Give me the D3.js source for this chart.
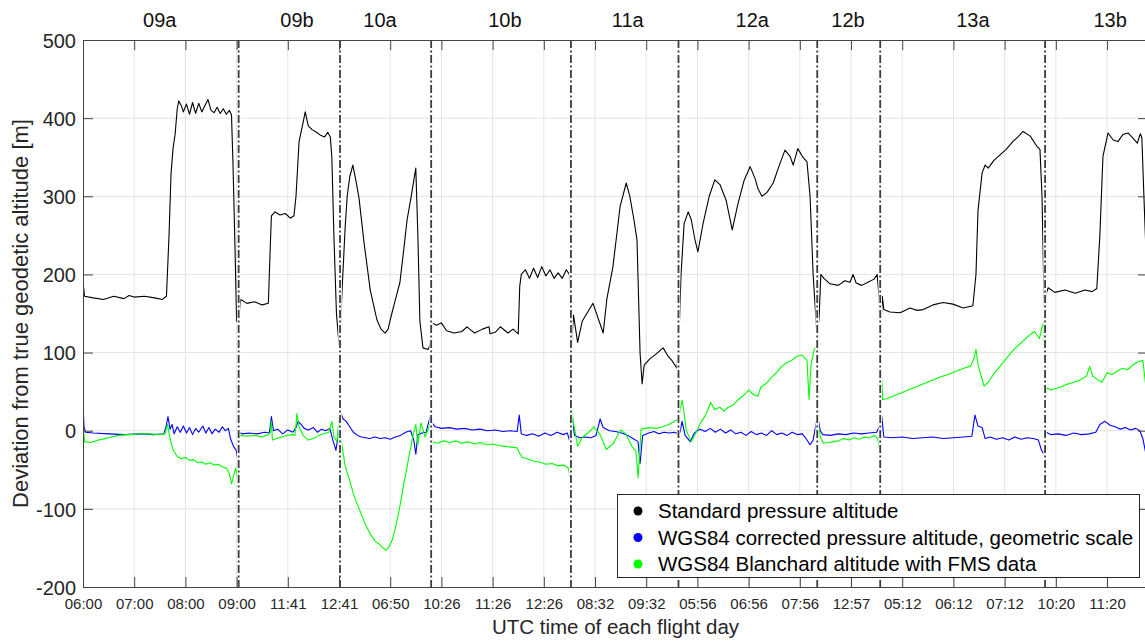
<!DOCTYPE html>
<html>
<head>
<meta charset="utf-8">
<script src="https://cdn.jsdelivr.net/npm/d3@7"></script>
<style>
  html, body { margin: 0; padding: 0; background: #fff; }
  svg { display: block; font-family: "Liberation Sans", Arial, Helvetica, sans-serif; }
</style>
</head>
<body>
<svg id="chart" width="1145" height="641"></svg>
<script>
// Concatenated flight-time axis: hours elapsed across all flights shown.
const tickLabels = ["06:00","07:00","08:00","09:00","11:41","12:41","06:50","10:26","11:26","12:26",
  "08:32","09:32","05:56","06:56","07:56","12:57","05:12","06:12","07:12","10:20","11:20"];
const flightNames = ["09a","09b","10a","10b","11a","12a","12b","13a","13b"];
const flightLabelAt = [1.50, 4.18, 5.80, 8.24, 10.64, 13.07, 14.94, 17.38, 20.06];
const flightBreaks = [3.04, 5.02, 6.80, 9.53, 11.63, 14.34, 15.57, 18.79];
const yTicks = [-200, -100, 0, 100, 200, 300, 400, 500];
const seriesNames = ["Standard pressure altitude",
  "WGS84 corrected pressure altitude, geometric scale",
  "WGS84 Blanchard altitude with FMS data"];

// [hour, deviation m] — standard pressure altitude
const stdAlt = [
  [0.00,133],[0.01,184],[0.03,172],[0.2,170],[0.4,168],[0.6,172],[0.8,169],[0.9,173],[1.0,171],[1.2,172],[1.4,170],[1.55,168],[1.63,172],
  [1.68,250],[1.72,330],[1.76,362],[1.80,380],[1.84,412],[1.87,422],[1.92,416],[1.96,408],[2.02,418],[2.08,405],[2.14,420],[2.20,406],
  [2.26,419],[2.32,408],[2.38,416],[2.44,424],[2.50,410],[2.56,407],[2.62,414],[2.68,406],[2.74,412],[2.80,405],[2.86,410],[2.90,404],
  [2.93,340],[2.97,230],[3.00,140],
  [3.05,150],[3.08,168],[3.2,163],[3.35,165],[3.5,161],[3.62,163],[3.66,240],[3.68,275],[3.75,280],[3.85,276],[3.95,278],[4.05,272],
  [4.12,275],[4.16,300],[4.22,370],[4.30,395],[4.34,408],[4.40,390],[4.48,385],[4.56,382],[4.64,378],[4.72,376],[4.78,382],[4.83,376],
  [4.86,350],[4.90,250],[4.95,150],[5.00,110],
  [5.02,120],[5.06,180],[5.12,260],[5.16,300],[5.21,325],[5.27,340],[5.33,320],[5.39,298],[5.49,240],[5.61,180],[5.74,142],[5.82,130],
  [5.90,125],[5.96,130],[6.00,142],[6.09,165],[6.19,190],[6.27,235],[6.33,270],[6.41,300],[6.46,320],[6.50,336],[6.54,250],[6.58,140],
  [6.64,106],[6.74,104],[6.78,110],
  [6.82,138],[6.90,135],[7.00,138],[7.10,128],[7.25,125],[7.40,127],[7.50,133],[7.55,130],[7.65,125],[7.80,130],[7.93,133],[7.95,124],
  [8.05,126],[8.15,133],[8.30,125],[8.40,130],[8.50,124],[8.53,185],[8.56,200],[8.64,206],[8.72,195],[8.80,208],[8.88,196],[8.96,210],
  [9.04,198],[9.12,206],[9.20,195],[9.28,202],[9.36,195],[9.44,206],[9.50,200],[9.53,160],
  [9.54,108],[9.58,148],[9.66,113],[9.75,140],[9.96,163],[10.16,125],[10.23,168],[10.35,210],[10.49,287],[10.61,317],[10.68,300],
  [10.76,270],[10.82,244],[10.88,99],[10.92,60],[10.96,84],[11.07,92],[11.19,98],[11.33,106],[11.43,95],[11.50,90],[11.60,80],
  [11.64,120],[11.68,200],[11.74,265],[11.82,280],[11.88,270],[11.95,245],[12.01,229],[12.11,265],[12.23,300],[12.34,321],[12.44,315],
  [12.56,295],[12.68,257],[12.79,290],[12.91,320],[13.03,338],[13.13,322],[13.18,310],[13.26,300],[13.36,305],[13.48,317],[13.59,338],
  [13.71,359],[13.81,351],[13.87,340],[13.96,361],[14.06,350],[14.14,344],[14.20,300],[14.26,200],[14.34,116],
  [14.38,150],[14.41,200],[14.47,195],[14.59,188],[14.75,186],[14.88,192],[14.98,190],[15.04,200],[15.10,189],[15.21,186],[15.33,190],
  [15.45,194],[15.51,200],[15.55,170],[15.57,110],
  [15.59,140],[15.61,172],[15.64,155],[15.76,152],[15.96,151],[16.15,157],[16.29,154],[16.41,155],[16.60,161],[16.80,164],[16.99,162],
  [17.19,157],[17.38,160],[17.44,200],[17.48,282],[17.56,330],[17.62,340],[17.68,336],[17.79,346],[17.91,353],[18.03,360],[18.16,370],
  [18.26,376],[18.36,383],[18.50,377],[18.63,364],[18.69,360],[18.73,300],[18.77,168],[18.79,133],
  [18.81,175],[18.85,183],[18.98,177],[19.18,180],[19.38,176],[19.57,180],[19.71,178],[19.80,182],[19.86,250],[19.92,351],[20.02,381],
  [20.12,372],[20.21,370],[20.31,379],[20.41,381],[20.51,374],[20.59,368],[20.65,380],[20.68,375],[20.72,300],[20.76,230]
];

// [hour, deviation m] — WGS84 corrected pressure altitude
const wgsPress = [
  [0.00,35],[0.02,5],[0.05,-2],[0.2,-3],[0.5,-4],[0.8,-5],[1.1,-4],[1.4,-5],[1.58,-4],[1.62,5],[1.66,18],[1.70,2],[1.74,8],[1.78,-4],
  [1.84,5],[1.90,-2],[1.96,6],[2.02,-3],[2.08,4],[2.14,-5],[2.20,3],[2.26,-2],[2.34,6],[2.40,-3],[2.46,4],[2.52,-4],[2.58,2],[2.66,-2],
  [2.72,5],[2.78,0],[2.84,3],[2.88,-10],[2.94,-20],[2.99,-25],[3.03,-38],
  [3.05,-2],[3.10,-4],[3.25,-3],[3.40,-4],[3.55,-2],[3.64,-3],[3.68,18],[3.72,0],[3.80,2],[3.90,-4],[4.00,1],[4.10,-2],[4.16,4],
  [4.20,12],[4.26,8],[4.32,3],[4.40,1],[4.50,4],[4.58,-2],[4.66,2],[4.74,0],[4.82,3],[4.88,-12],[4.94,-25],[4.98,-8],[5.02,18],
  [5.04,22],[5.08,15],[5.14,12],[5.20,6],[5.28,-2],[5.36,-6],[5.44,-8],[5.52,-9],[5.60,-10],[5.70,-8],[5.80,-10],[5.90,-9],[6.00,-11],
  [6.10,-8],[6.20,-6],[6.30,-2],[6.40,0],[6.46,-12],[6.50,-30],[6.54,-5],[6.62,-3],[6.70,-2],[6.78,18],
  [6.82,10],[6.88,5],[7.00,3],[7.15,4],[7.30,2],[7.45,3],[7.60,1],[7.75,2],[7.90,0],[8.05,1],[8.20,-1],[8.35,0],[8.48,-1],[8.52,20],
  [8.56,-4],[8.66,-6],[8.78,-4],[8.90,-7],[9.02,-3],[9.14,-6],[9.26,-2],[9.38,-5],[9.46,-3],[9.50,-12],
  [9.55,18],[9.60,-6],[9.70,-9],[9.82,-8],[9.92,-9],[10.02,-6],[10.10,15],[10.16,4],[10.28,0],[10.40,-1],[10.52,-3],[10.64,-6],
  [10.74,-10],[10.84,-14],[10.88,-42],[10.93,-6],[11.05,-3],[11.15,-1],[11.25,-4],[11.35,-2],[11.45,-3],[11.55,-2],[11.62,-4],
  [11.66,-2],[11.70,12],[11.76,-6],[11.86,-14],[11.94,-3],[12.05,2],[12.15,-1],[12.25,3],[12.35,-2],[12.45,2],[12.55,-3],[12.65,1],
  [12.75,-4],[12.85,-2],[12.95,-6],[13.05,-1],[13.15,-5],[13.25,-3],[13.35,-6],[13.45,0],[13.55,-5],[13.65,-3],[13.75,-6],[13.85,-2],
  [13.95,-5],[14.05,-4],[14.12,-10],[14.20,-18],[14.26,-12],[14.32,10],
  [14.36,14],[14.40,0],[14.45,-5],[14.60,-6],[14.75,-4],[14.90,-5],[15.05,-3],[15.20,-4],[15.35,-3],[15.50,-2],[15.55,5],
  [15.58,-20],[15.60,18],[15.64,-8],[15.80,-9],[16.00,-8],[16.20,-10],[16.40,-9],[16.60,-8],[16.80,-10],[17.00,-9],[17.20,-8],
  [17.36,-7],[17.42,20],[17.48,6],[17.56,4],[17.62,-10],[17.72,-8],[17.84,-11],[17.96,-9],[18.08,-12],[18.20,-8],[18.32,-11],
  [18.44,-9],[18.56,-10],[18.66,-12],[18.72,-25],[18.77,-30],[18.80,-5],
  [18.82,-2],[18.90,-5],[19.05,-4],[19.20,-6],[19.35,-3],[19.50,-5],[19.65,-4],[19.78,-2],[19.86,8],[19.96,12],[20.06,7],[20.16,5],
  [20.26,2],[20.36,4],[20.46,1],[20.56,3],[20.64,0],[20.70,-10],[20.76,-30]
];

// [hour, deviation m] — WGS84 Blanchard altitude with FMS data
const blanchard = [
  [0.00,10],[0.03,-14],[0.15,-15],[0.30,-12],[0.50,-9],[0.70,-6],[0.90,-5],[1.10,-4],[1.30,-4],[1.50,-5],[1.60,-4],[1.65,8],[1.70,-10],
  [1.76,-25],[1.84,-33],[1.92,-36],[2.00,-34],[2.08,-38],[2.16,-37],[2.24,-41],[2.32,-40],[2.40,-43],[2.48,-41],[2.56,-44],[2.64,-43],
  [2.72,-46],[2.80,-48],[2.86,-55],[2.90,-68],[2.94,-58],[2.98,-48],[3.02,-60],
  [3.06,-6],[3.20,-7],[3.35,-6],[3.50,-8],[3.62,-5],[3.66,-2],[3.68,12],[3.70,-12],[3.78,-10],[3.88,-8],[3.98,-6],[4.08,-5],[4.14,-6],
  [4.18,22],[4.22,5],[4.30,-6],[4.40,-12],[4.50,-10],[4.60,-6],[4.70,-4],[4.80,-2],[4.86,12],[4.90,-8],[4.96,-14],[5.00,15],
  [5.03,-2],[5.06,-20],[5.12,-45],[5.20,-62],[5.30,-85],[5.40,-101],[5.50,-118],[5.60,-131],[5.70,-141],[5.80,-146],[5.86,-150],
  [5.92,-153],[5.98,-148],[6.04,-140],[6.10,-125],[6.18,-100],[6.26,-70],[6.34,-42],[6.44,-8],[6.50,8],[6.54,-18],[6.60,10],[6.68,-8],
  [6.76,5],[6.80,18],
  [6.82,-14],[6.92,-16],[7.04,-13],[7.16,-15],[7.28,-13],[7.40,-16],[7.52,-14],[7.64,-17],[7.76,-15],[7.88,-18],[8.00,-17],[8.12,-19],
  [8.24,-20],[8.36,-21],[8.48,-22],[8.52,-28],[8.58,-34],[8.68,-36],[8.80,-39],[8.92,-40],[9.04,-43],[9.16,-42],[9.28,-45],[9.40,-44],
  [9.48,-48],[9.52,-62],
  [9.54,30],[9.58,10],[9.66,-20],[9.76,-8],[9.86,-3],[9.98,5],[10.10,-5],[10.22,-24],[10.36,-16],[10.50,1],[10.60,-4],[10.72,-20],
  [10.80,-26],[10.84,-60],[10.90,2],[11.05,4],[11.20,3],[11.32,5],[11.44,8],[11.55,12],[11.62,14],
  [11.64,14],[11.66,27],[11.70,39],[11.74,23],[11.78,1],[11.82,-5],[11.88,-14],[11.96,-4],[12.06,10],[12.16,20],[12.26,36],[12.34,27],
  [12.44,30],[12.52,25],[12.60,30],[12.70,33],[12.80,40],[12.90,45],[13.00,52],[13.10,46],[13.18,44],[13.24,56],[13.34,60],[13.44,68],
  [13.54,74],[13.64,82],[13.74,87],[13.84,90],[13.94,95],[14.04,97],[14.14,90],[14.18,40],[14.22,85],[14.28,104],[14.34,108],
  [14.36,10],[14.40,-8],[14.46,-16],[14.56,-15],[14.66,-14],[14.76,-13],[14.86,-10],[14.96,-12],[15.06,-9],[15.16,-11],[15.26,-8],
  [15.36,-9],[15.46,-6],[15.52,-10],[15.56,-25],
  [15.58,-20],[15.60,65],[15.62,40],[15.70,41],[15.85,45],[16.00,49],[16.15,53],[16.30,57],[16.45,61],[16.60,65],[16.75,69],[16.90,72],
  [17.05,76],[17.20,80],[17.34,83],[17.40,92],[17.44,104],[17.48,85],[17.54,70],[17.60,57],[17.68,62],[17.78,72],[17.88,80],[17.98,88],
  [18.08,96],[18.18,104],[18.28,110],[18.38,116],[18.48,122],[18.58,127],[18.68,118],[18.72,130],[18.76,138],
  [18.80,35],[18.82,55],[18.90,52],[19.00,54],[19.10,56],[19.20,59],[19.30,61],[19.40,63],[19.50,66],[19.60,70],[19.66,82],[19.72,70],
  [19.80,66],[19.90,62],[20.00,74],[20.10,72],[20.20,76],[20.30,80],[20.40,78],[20.50,84],[20.60,88],[20.70,90],[20.76,55]
];

const seriesColors = ["#000000", "#0000ff", "#00ff00"];

const svg = d3.select("#chart");
const L = 83, R = 1148, T = 40, B = 587;
const x = d3.scaleLinear().domain([0, 20.8]).range([L, R]);
const y = d3.scaleLinear().domain([-200, 500]).range([B, T]);
const hourTicks = d3.range(0, 21);
const axisColor = "#444444";
const labelColor = "#262626";

svg.append("defs").append("clipPath").attr("id", "plotClip")
  .append("rect").attr("x", L).attr("y", T).attr("width", R - L).attr("height", B - T);

// grid
const grid = svg.append("g");
grid.selectAll("line.gx").data(hourTicks.slice(1)).join("line")
  .attr("x1", d => x(d)).attr("x2", d => x(d)).attr("y1", T).attr("y2", B)
  .attr("stroke", "#e4e4e4").attr("stroke-width", 1);
grid.selectAll("line.gy").data(yTicks.slice(1, -1)).join("line")
  .attr("x1", L).attr("x2", R).attr("y1", d => y(d)).attr("y2", d => y(d))
  .attr("stroke", "#e4e4e4").attr("stroke-width", 1);

// data lines
const line = d3.line().x(d => x(d[0])).y(d => y(d[1]));
const plot = svg.append("g").attr("clip-path", "url(#plotClip)");
[stdAlt, wgsPress, blanchard].forEach((s, i) => {
  plot.append("path").datum(s).attr("d", line)
    .attr("fill", "none").attr("stroke", seriesColors[i])
    .attr("stroke-width", 1.1).attr("stroke-linejoin", "round");
});

// flight separators
const sep = svg.append("g");
sep.selectAll("line.w").data(flightBreaks).join("line")
  .attr("x1", d => x(d)).attr("x2", d => x(d)).attr("y1", T).attr("y2", B)
  .attr("stroke", "#ffffff").attr("stroke-width", 3.5);
sep.selectAll("line.k").data(flightBreaks).join("line")
  .attr("x1", d => x(d)).attr("x2", d => x(d)).attr("y1", T).attr("y2", B)
  .attr("stroke", "#3c3c3c").attr("stroke-width", 1.8)
  .attr("stroke-dasharray", "8,2.5,2,2.5");

// axes (ticks point inward, box on)
const axBottom = svg.append("g").attr("transform", `translate(0,${B})`)
  .call(d3.axisBottom(x).tickValues(hourTicks).tickFormat(i => tickLabels[i]).tickSize(-10).tickPadding(11));
const axTop = svg.append("g").attr("transform", `translate(0,${T})`)
  .call(d3.axisTop(x).tickValues(hourTicks).tickFormat("").tickSize(-10));
const axLeft = svg.append("g").attr("transform", `translate(${L},0)`)
  .call(d3.axisLeft(y).tickValues(yTicks).tickFormat(d => String(d)).tickSize(-10).tickPadding(7));
const axRight = svg.append("g").attr("transform", `translate(${R},0)`)
  .call(d3.axisRight(y).tickValues(yTicks).tickFormat("").tickSize(-10));
[axBottom, axTop, axLeft, axRight].forEach(g => {
  g.selectAll("path.domain").attr("stroke", axisColor).attr("stroke-width", 1);
  g.selectAll(".tick line").attr("stroke", axisColor).attr("stroke-width", 1);
  g.selectAll(".tick text").attr("fill", labelColor).attr("font-family", null);
});
axBottom.selectAll(".tick text").attr("font-size", 15);
axLeft.selectAll(".tick text").attr("font-size", 20).attr("dy", "0.36em");

// flight names above the plot
svg.append("g").selectAll("text").data(flightNames).join("text")
  .attr("x", (d, i) => x(flightLabelAt[i])).attr("y", 27)
  .attr("text-anchor", "middle").attr("font-size", 20).attr("fill", "#111")
  .text(d => d);

// axis titles
svg.append("text").attr("x", (L + R) / 2).attr("y", 634)
  .attr("text-anchor", "middle").attr("font-size", 20.5).attr("fill", labelColor)
  .text("UTC time of each flight day");
svg.append("text").attr("transform", `translate(28,${(T + B) / 2}) rotate(-90)`)
  .attr("text-anchor", "middle").attr("font-size", 22).attr("fill", labelColor)
  .text("Deviation from true geodetic altitude [m]");

// legend
const lg = svg.append("g");
lg.append("rect").attr("x", 617.5).attr("y", 494.5).attr("width", 522).attr("height", 83)
  .attr("fill", "#fff").attr("stroke", "#262626").attr("stroke-width", 1);
const entry = lg.selectAll("g.e").data(seriesNames).join("g")
  .attr("transform", (d, i) => `translate(0,${511 + i * 26.5})`);
entry.append("circle").attr("cx", 638).attr("cy", 0).attr("r", 4.5)
  .attr("fill", (d, i) => seriesColors[i]);
entry.append("text").attr("x", 658).attr("y", 0).attr("dy", "0.36em")
  .attr("font-size", 20.5).attr("fill", "#000").text(d => d);
</script>
</body>
</html>
